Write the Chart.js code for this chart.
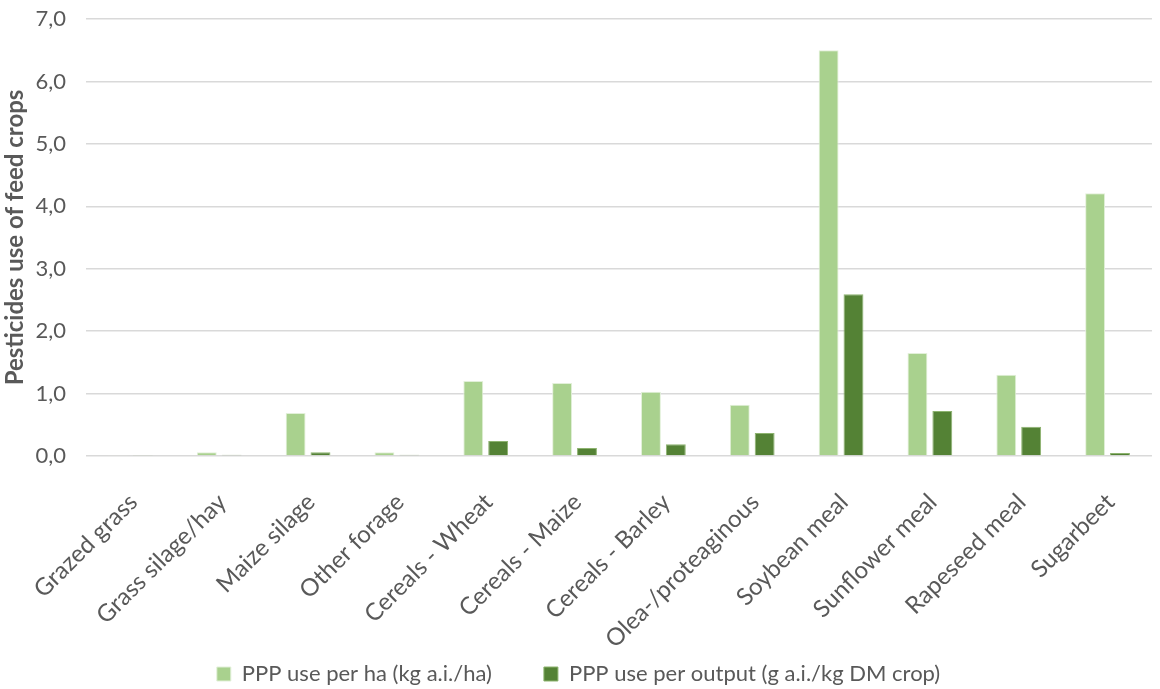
<!DOCTYPE html>
<html>
<head>
<meta charset="utf-8">
<script src="https://cdn.jsdelivr.net/npm/chart.js@4/dist/chart.umd.min.js"></script>
<style>
  html, body { margin: 0; padding: 0; background: #ffffff; }
  #wrap { width: 1160px; height: 689px; position: relative; }
</style>
</head>
<body>
<div id="wrap"><canvas id="chart"></canvas></div>
<script>
// Feed crop categories
const categories = [
  'Grazed grass', 'Grass silage/hay', 'Maize silage', 'Other forage',
  'Cereals - Wheat', 'Cereals - Maize', 'Cereals - Barley', 'Olea-/proteaginous',
  'Soybean meal', 'Sunflower meal', 'Rapeseed meal', 'Sugarbeet'
];
// PPP use per ha (kg a.i./ha)
const perHa = [0.01, 0.06, 0.69, 0.06, 1.20, 1.17, 1.03, 0.82, 6.50, 1.65, 1.30, 4.21];
// PPP use per output (g a.i./kg DM crop)
const perOutput = [0.01, 0.02, 0.06, 0.02, 0.24, 0.13, 0.19, 0.37, 2.59, 0.72, 0.47, 0.05];
const seriesNames = ['PPP use per ha (kg a.i./ha)', 'PPP use per output (g a.i./kg DM crop)'];
const yTicks = [0, 1, 2, 3, 4, 5, 6, 7];

const FONT = 'Lato, "Open Sans", sans-serif';
const GREY = '#595959';

new Chart(document.getElementById('chart'), {
  type: 'bar',
  data: {
    labels: categories,
    datasets: [
      {
        label: seriesNames[0],
        data: perHa,
        backgroundColor: '#A9D18E',
        borderColor: '#E2F0D9',
        borderWidth: 1,
        barPercentage: 0.8,
        categoryPercentage: 0.56
      },
      {
        label: seriesNames[1],
        data: perOutput,
        backgroundColor: '#548235',
        borderColor: '#8DB36F',
        borderWidth: 1,
        barPercentage: 0.8,
        categoryPercentage: 0.56
      }
    ]
  },
  options: {
    responsive: true,
    maintainAspectRatio: false,
    animation: false,
    layout: { padding: { top: 19, right: 3, left: 0, bottom: -6 } },
    plugins: {
      tooltip: { enabled: false },
      legend: {
        position: 'bottom',
        labels: {
          color: GREY,
          font: { family: FONT, size: 22 },
          boxWidth: 14,
          boxHeight: 14,
          padding: 52,
          useBorderRadius: false
        }
      }
    },
    scales: {
      x: {
        grid: { display: false, drawTicks: false },
        border: { display: false },
        afterFit: (axis) => {
          axis.height = 155;
          // let the long rotated labels run below the axis box
          axis._computeLabelArea = () => undefined;
        },
        ticks: {
          color: GREY,
          font: { family: FONT, size: 24 },
          minRotation: 45,
          maxRotation: 45,
          padding: 32,
          labelOffset: 3,
          autoSkip: false
        }
      },
      y: {
        min: 0,
        max: 7,
        afterBuildTicks: (axis) => { axis.ticks = yTicks.map(v => ({ value: v })); },
        afterFit: (axis) => {
          axis.width = 85;
          axis.paddingTop = 0;
          axis.paddingBottom = 0;
        },
        grid: { color: '#D9D9D9', lineWidth: 1.5, drawTicks: false },
        border: { display: false },
        ticks: {
          color: GREY,
          font: { family: FONT, size: 22 },
          padding: 20,
          callback: (v) => v.toFixed(1).replace('.', ',')
        },
        title: {
          display: true,
          text: 'Pesticides use of feed crops',
          color: GREY,
          font: { family: FONT, size: 24, weight: 'bold' },
          padding: { top: 0, bottom: 0 }
        }
      }
    }
  }
});
</script>
</body>
</html>
